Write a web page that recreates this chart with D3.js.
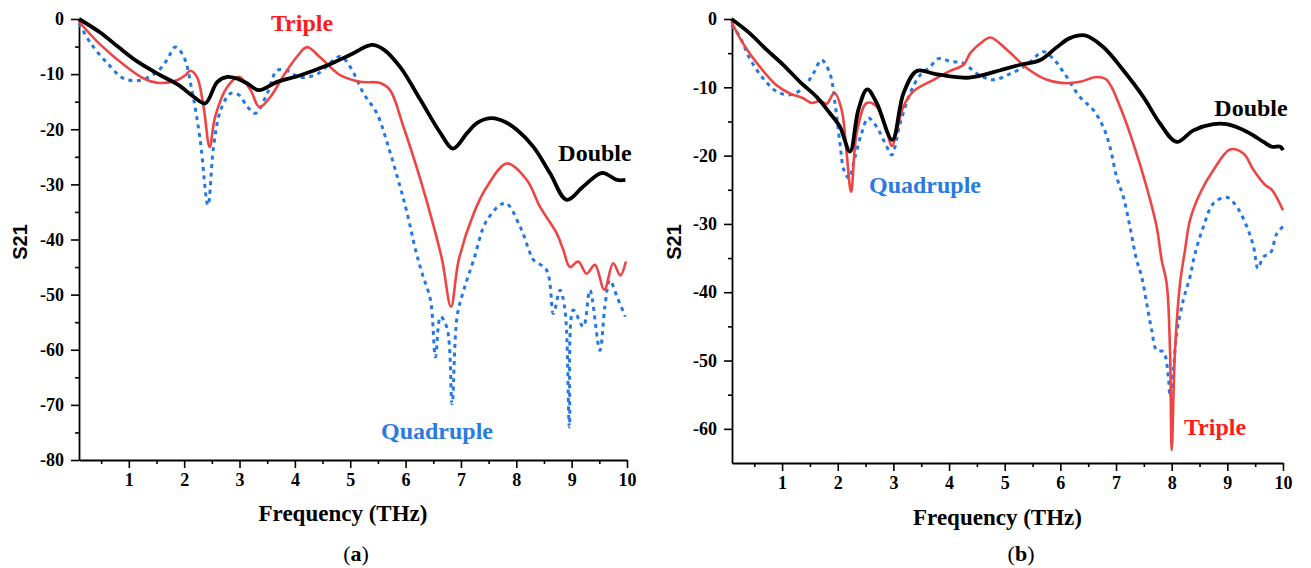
<!DOCTYPE html>
<html>
<head>
<meta charset="utf-8">
<script src="https://cdn.jsdelivr.net/npm/d3@7"></script>
<style>
	body { margin: 0; background: #fff; }
	svg text { font-family: 'Liberation Serif', 'DejaVu Serif', serif; }
</style>
</head>
<body>
<svg id="svg" width="1311" height="568"></svg>
<script>
	'use strict';

	// panel (a) - [frequency THz, S21]
	var doubleA = [[0.1, 0], [0.49, -2.5], [0.8, -5], [1.15, -7.7], [1.57, -10.2], [1.9, -12], [2.17, -14.1], [2.38, -15.3],
		[2.6, -11.4], [2.78, -10.5], [2.95, -10.8], [3.14, -11.7], [3.35, -12.9], [3.68, -11.4], [4.1, -10.2], [4.61, -8.3],
		[5.0, -6.5], [5.39, -4.7], [5.6, -5.5], [5.9, -8.7], [6.27, -14.7], [6.63, -20.7], [6.86, -23.5], [7.11, -20.7],
		[7.3, -18.8], [7.56, -18.0], [7.8, -18.7], [8.01, -20.1], [8.31, -23.2], [8.61, -28.0], [8.91, -32.8], [9.21, -30.4],
		[9.55, -27.9], [9.82, -29.2], [9.97, -29.2]];
	var tripleA = [[0.1, -0.5], [0.49, -4.7], [0.91, -8.3], [1.27, -10.8], [1.54, -11.6], [1.87, -11.1], [2.02, -10.2], [2.11, -9.4],
		[2.23, -10.5], [2.35, -15.9], [2.46, -23.2], [2.56, -17.7], [2.78, -12.3], [2.99, -10.5], [3.2, -12.9], [3.36, -16.0],
		[3.56, -14.1], [3.8, -10.2], [4.04, -6.8], [4.22, -5.1], [4.46, -7.0], [4.82, -10.2], [5.18, -11.4], [5.54, -11.6],
		[5.72, -12.9], [5.96, -19.5], [6.27, -29.2], [6.51, -37.7], [6.66, -43.7], [6.82, -52.2], [6.96, -43.7], [7.23, -35.3],
		[7.47, -30.4], [7.83, -26.2], [8.19, -29.2], [8.43, -34.1], [8.73, -38.9], [8.85, -41.9], [8.97, -45.0], [9.12, -44.0],
		[9.27, -46.2], [9.42, -44.6], [9.59, -49.1], [9.75, -44.3], [9.88, -46.5], [9.98, -44.0]];
	var quadA = [[0.1, -0.8], [0.31, -4.4], [0.61, -8.0], [0.91, -10.8], [1.21, -11.1], [1.51, -9.6], [1.69, -7.4], [1.84, -5.1],
		[1.99, -6.8], [2.14, -12.9], [2.29, -22.0], [2.43, -33.8], [2.53, -23.2], [2.66, -16.5], [2.84, -13.5], [2.99, -13.8],
		[3.14, -15.9], [3.29, -17.1], [3.5, -13.5], [3.68, -9.3], [3.86, -9.4], [4.1, -10.6], [4.4, -10.0], [4.82, -6.8],
		[5.0, -8.7], [5.24, -13.5], [5.48, -17.1], [5.69, -23.2], [5.9, -30.4], [6.03, -35.3], [6.18, -41.9], [6.3, -46.2],
		[6.45, -51.0], [6.54, -61.3], [6.63, -54.0], [6.75, -56.1], [6.84, -69.8], [6.93, -54.0], [7.05, -49.2], [7.23, -43.7],
		[7.47, -36.5], [7.8, -33.4], [8.07, -37.7], [8.25, -42.5], [8.31, -43.7], [8.55, -45.6], [8.67, -53.4], [8.79, -49.2],
		[8.88, -52.8], [8.96, -74.0], [9.03, -52.8], [9.21, -55.8], [9.33, -49.2], [9.51, -60.1], [9.6, -52.2], [9.69, -47.4],
		[9.82, -50.4], [9.97, -54.0]];

	// panel (b)
	var doubleB = [[0.09, 0], [0.42, -2.1], [0.72, -4.5], [1.02, -6.7], [1.32, -9.2], [1.62, -11.4], [1.86, -13.8], [2.04, -15.8],
		[2.22, -19.4], [2.37, -13.3], [2.53, -10.3], [2.7, -12.3], [2.98, -17.7], [3.18, -10.9], [3.42, -7.6], [3.72, -8.0],
		[4.02, -8.4], [4.32, -8.6], [4.56, -8.3], [4.92, -7.5], [5.28, -6.7], [5.64, -6.0], [5.94, -4.1], [6.17, -2.8],
		[6.44, -2.4], [6.77, -4.1], [7.13, -7.5], [7.49, -11.4], [7.79, -15.3], [8.09, -18.0], [8.39, -16.3], [8.75, -15.4],
		[8.99, -15.4], [9.35, -16.5], [9.65, -18.0], [9.8, -18.7], [9.95, -18.7], [10, -19.2]];
	var tripleB = [[0.09, -0.4], [0.3, -3.6], [0.6, -7.0], [0.9, -9.7], [1.14, -10.9], [1.38, -11.6], [1.53, -12.3], [1.68, -12.0],
		[1.8, -12.4], [1.94, -10.8], [2.07, -13.3], [2.16, -19.7], [2.24, -25.3], [2.34, -16.7], [2.52, -12.3], [2.7, -12.8],
		[2.88, -16.3], [2.97, -18.6], [3.18, -12.8], [3.36, -10.6], [3.72, -8.9], [4.02, -7.6], [4.26, -6.7], [4.38, -5.0],
		[4.56, -3.6], [4.74, -2.7], [5.04, -4.5], [5.4, -7.2], [5.76, -8.9], [6.12, -9.4], [6.35, -9.2], [6.65, -8.5],
		[6.83, -8.9], [7.07, -12.8], [7.31, -18.2], [7.55, -24.6], [7.73, -30.4], [7.82, -35.3], [7.91, -38.7], [7.97, -48.5],
		[8.0, -63.1], [8.06, -48.5], [8.15, -38.7], [8.24, -33.8], [8.33, -29.4], [8.51, -25.5], [8.75, -22.1], [9.05, -19.1],
		[9.29, -19.7], [9.47, -22.1], [9.68, -24.3], [9.8, -25.0], [10, -28.0]];
	var quadB = [[0.09, -0.9], [0.24, -2.6], [0.42, -5.8], [0.66, -8.7], [0.9, -10.6], [1.14, -11.1], [1.38, -10.1], [1.56, -8.0],
		[1.71, -6.0], [1.86, -8.0], [1.95, -12.3], [2.04, -18.2], [2.11, -22.1], [2.2, -23.3], [2.31, -20.2], [2.43, -16.7],
		[2.55, -14.5], [2.7, -15.8], [2.88, -18.7], [2.97, -19.9], [3.12, -15.3], [3.3, -10.9], [3.48, -8.2], [3.66, -7.0],
		[3.81, -5.8], [4.02, -6.2], [4.26, -6.5], [4.5, -8.0], [4.8, -8.9], [5.1, -8.0], [5.4, -6.7], [5.69, -4.8],
		[5.87, -5.8], [6.05, -7.7], [6.35, -11.4], [6.59, -13.3], [6.77, -15.8], [6.89, -18.7], [7.01, -23.1], [7.13, -26.0],
		[7.25, -30.4], [7.37, -35.3], [7.46, -37.7], [7.55, -41.6], [7.64, -45.5], [7.73, -48.5], [7.85, -48.7], [7.94, -52.4],
		[7.97, -55.3], [8.03, -51.4], [8.09, -46.0], [8.21, -41.1], [8.33, -37.7], [8.42, -34.3], [8.57, -30.4], [8.75, -27.0],
		[8.99, -26.1], [9.17, -27.5], [9.35, -30.4], [9.47, -33.3], [9.55, -36.5], [9.65, -34.8], [9.77, -34.3], [9.89, -31.4],
		[10, -30.4]];

	var xTicks = [1, 2, 3, 4, 5, 6, 7, 8, 9, 10];
	var yTicksA = [0, -10, -20, -30, -40, -50, -60, -70, -80];
	var yTicksB = [0, -10, -20, -30, -40, -50, -60];
	var seriesNames = ['Double', 'Triple', 'Quadruple'];

	var colors = {Double: '#000000', Triple: '#ef4444', Quadruple: '#2677e6'};
	var labelColors = {Double: '#000000', Triple: '#ff1a1a', Quadruple: '#2a7ae2'};

	var panels = [
		{
			tag: 'a', left: 79, right: 627, top: 19, bottom: 460, yMin: -80, yTicks: yTicksA,
			series: [doubleA, tripleA, quadA],
			labels: [[595, 153], [302, 23], [437, 431]],
			yTitleX: 20, xTitleY: 513, tagX: 356
		},
		{
			tag: 'b', left: 732, right: 1283, top: 19, bottom: 463, yMin: -65, yTicks: yTicksB,
			series: [doubleB, tripleB, quadB],
			labels: [[1251, 108], [1215, 427], [925, 185]],
			yTitleX: 674, xTitleY: 517, tagX: 1021
		}
	];

	var svg = d3.select('#svg');
	var fmt = function (d) { return String(d); };

	panels.forEach(function (p) {
		// axis starts at 0.1 THz
		var x = d3.scaleLinear().domain([0.1, 10]).range([p.left, p.right]);
		var y = d3.scaleLinear().domain([p.yMin, 0]).range([p.bottom, p.top]);

		var g = svg.append('g');

		var minorX = d3.range(0.5, 10, 1);
		var minorY = d3.range(-5, p.yMin, -10);

		// minor ticks
		g.append('g')
			.attr('transform', 'translate(0,' + p.bottom + ')')
			.call(d3.axisBottom(x).tickValues(minorX).tickSize(4).tickFormat(''))
			.call(function (s) { s.select('.domain').remove(); });
		g.append('g')
			.attr('transform', 'translate(' + p.left + ',0)')
			.call(d3.axisLeft(y).tickValues(minorY).tickSize(4).tickFormat(''))
			.call(function (s) { s.select('.domain').remove(); });

		var xAxis = g.append('g')
			.attr('transform', 'translate(0,' + p.bottom + ')')
			.call(d3.axisBottom(x).tickValues(xTicks).tickSize(8).tickSizeOuter(0).tickPadding(5).tickFormat(fmt));
		var yAxis = g.append('g')
			.attr('transform', 'translate(' + p.left + ',0)')
			.call(d3.axisLeft(y).tickValues(p.yTicks).tickSize(8).tickSizeOuter(0).tickPadding(7).tickFormat(fmt));

		g.selectAll('.tick line').attr('stroke', '#000').attr('stroke-width', 1.6);
		g.selectAll('.domain').attr('stroke', '#000').attr('stroke-width', 1.8);
		[xAxis, yAxis].forEach(function (a) {
			a.selectAll('text')
				.attr('fill', '#000')
				.style('font-family', "'Liberation Serif', serif")
				.style('font-size', '18px')
				.style('font-weight', 'bold');
		});

		var line = d3.line()
			.x(function (d) { return x(d[0]); })
			.y(function (d) { return y(d[1]); })
			.curve(d3.curveCatmullRom.alpha(0.5));

		// draw order: quadruple, triple, double on top
		[2, 1, 0].forEach(function (i) {
			var name = seriesNames[i];
			var path = g.append('path')
				.datum(p.series[i])
				.attr('fill', 'none')
				.attr('stroke', colors[name])
				.attr('stroke-linejoin', 'round')
				.attr('d', line);
			if (name === 'Double') {
				path.attr('stroke-width', 3.8);
			} else if (name === 'Triple') {
				path.attr('stroke-width', 2.6);
			} else {
				path.attr('stroke-width', 3).attr('stroke-dasharray', '4,4.5');
			}
		});

		seriesNames.forEach(function (name, i) {
			g.append('text')
				.attr('x', p.labels[i][0])
				.attr('y', p.labels[i][1])
				.attr('dy', '0.35em')
				.attr('text-anchor', 'middle')
				.attr('fill', labelColors[name])
				.style('font-size', '24px')
				.style('font-weight', 'bold')
				.text(name);
		});

		g.append('text')
			.attr('transform', 'translate(' + p.yTitleX + ',242) rotate(-90)')
			.attr('dy', '0.35em')
			.attr('text-anchor', 'middle')
			.style('font-family', "'Liberation Sans', sans-serif")
			.style('font-size', '20px')
			.style('font-weight', 'bold')
			.text('S21');

		g.append('text')
			.attr('x', (p.left + p.right) / 2 - 10)
			.attr('y', p.xTitleY)
			.attr('dy', '0.35em')
			.attr('text-anchor', 'middle')
			.style('font-size', '23px')
			.style('font-weight', 'bold')
			.text('Frequency (THz)');

		var tag = g.append('text')
			.attr('x', p.tagX)
			.attr('y', 553)
			.attr('dy', '0.35em')
			.attr('text-anchor', 'middle')
			.style('font-size', '22px');
		tag.append('tspan').text('(');
		tag.append('tspan').style('font-weight', 'bold').text(p.tag);
		tag.append('tspan').text(')');
	});
</script>
</body>
</html>
